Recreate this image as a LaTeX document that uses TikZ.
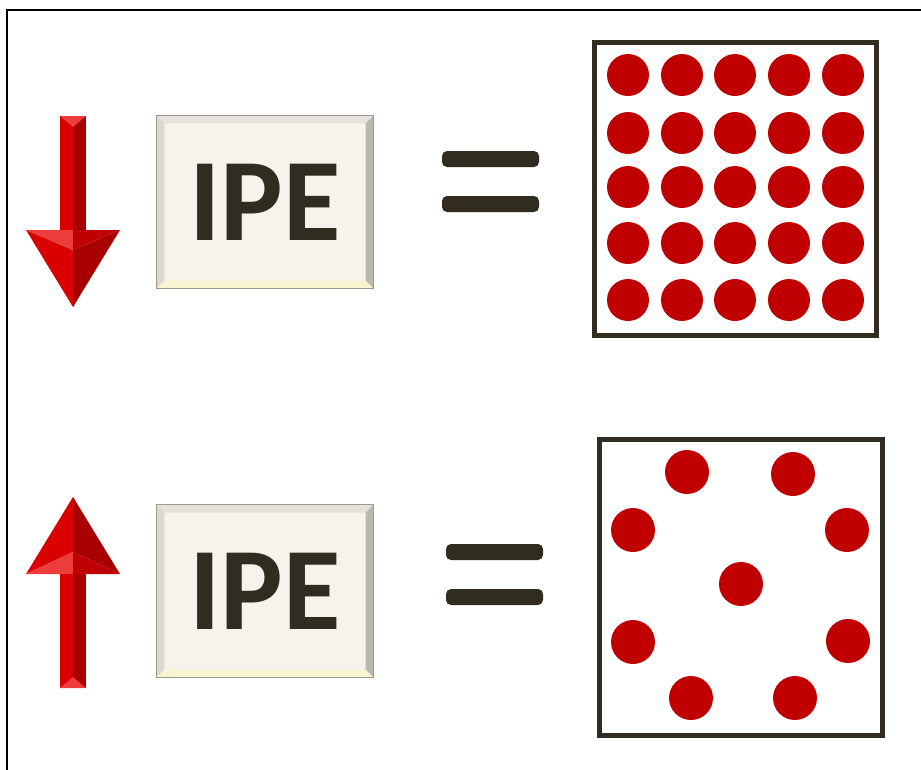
\documentclass[tikz,border=0pt]{standalone}
\usepackage{fontspec}
\newfontfamily\ipefont{Carlito}
\usepackage{tikz}
\usetikzlibrary{calc,positioning}
\definecolor{dotred}{RGB}{192,0,0}
\definecolor{inkdark}{RGB}{48,44,32}
\definecolor{redlight}{RGB}{218,0,0}
\definecolor{reddark}{RGB}{168,0,0}
\definecolor{redtop}{RGB}{236,60,60}
\definecolor{boxface}{RGB}{246,243,236}
\definecolor{boxedge}{RGB}{160,152,138}
\tikzset{
  ipebox/.style={fill=boxface, draw=boxedge, line width=0.6pt, inner sep=0pt,
    minimum width=4.32cm, minimum height=3.44cm, text depth=0pt,
    text=inkdark, font=\ipefont\bfseries\fontsize{67}{67}\selectfont},
  eqbar/.style={fill=inkdark, rounded corners=0.1cm},
  dotframe/.style={draw=inkdark, line width=0.1cm}
}
\begin{document}
\begin{tikzpicture}[x=0.02cm, y=-0.02cm]
        \def\rA{0.42cm}
        \def\rB{0.44cm}
        \useasboundingbox (0,0) rectangle (921,769);
        \clip (0,0) rectangle (921,769);
        \fill[white] (0,0) rectangle (921,769);
        %Outer frame
        \draw[line width=0.04cm] (7,10) rectangle (940,790);
        %Down arrow
        \fill[redlight] (60,116) rectangle (73,232);
        \fill[reddark] (73,116) rectangle (86,232);
        \fill[redtop] (60,116) -- (86,116) -- (73,127) -- cycle;
        \fill[redlight] (26,230) -- (73,250) -- (73,307) -- cycle;
        \fill[reddark] (120,230) -- (73,250) -- (73,307) -- cycle;
        \fill[redtop] (26,230) -- (73,230) -- (73,250) -- cycle;
        \fill[dotred] (73,230) -- (120,230) -- (73,250) -- cycle;
        %Up arrow
        \fill[redlight] (60,572) rectangle (73,688);
        \fill[reddark] (73,572) rectangle (86,688);
        \fill[redtop] (60,688) -- (86,688) -- (73,677) -- cycle;
        \fill[redlight] (26,574) -- (73,497) -- (73,552) -- cycle;
        \fill[reddark] (120,574) -- (73,497) -- (73,552) -- cycle;
        \fill[redtop] (26,574) -- (73,574) -- (73,552) -- cycle;
        \fill[dotred] (73,574) -- (120,574) -- (73,552) -- cycle;
        %IPE boxes
        \node[ipebox] (ipetop) at (265,202) {IPE};
        \node[ipebox] (ipebot) at (265,591) {IPE};
        \foreach \b in {ipetop,ipebot} {
            \fill[black!7!boxface] (\b.north west) -- (\b.north east) -- ($(\b.north east)+(-8,8)$) -- ($(\b.north west)+(8,8)$) -- cycle;
            \fill[black!11!boxface] (\b.north west) -- (\b.south west) -- ($(\b.south west)+(8,-8)$) -- ($(\b.north west)+(8,8)$) -- cycle;
            \fill[black!24!boxface] (\b.north east) -- (\b.south east) -- ($(\b.south east)+(-8,-8)$) -- ($(\b.north east)+(-8,8)$) -- cycle;
            \fill[yellow!12!boxface] (\b.south west) -- (\b.south east) -- ($(\b.south east)+(-8,-8)$) -- ($(\b.south west)+(8,-8)$) -- cycle;
            \draw[boxedge, line width=0.6pt] (\b.north west) rectangle (\b.south east);
          }
        %Equal signs
        \fill[eqbar] (442,151) rectangle (539,167);
        \fill[eqbar] (442,196) rectangle (539,212);
        \fill[eqbar] (446,544) rectangle (543,560);
        \fill[eqbar] (446,589) rectangle (543,605);
        %Packed dots
        \draw[dotframe] (594,42) rectangle (876,335);
        \foreach \x in {628,682,735,789,843} {
            \foreach \y in {75,133,187,243,300}
              {
                \fill[dotred] (\x,\y) circle (\rA);
              }
          }
        %Sparse dots
        \draw[dotframe] (599,439) rectangle (882,735);
        \foreach \x/\y in {687/472,793/474,633/530,847/530,741/584,633/642,848/641,691/698,795/698}
          {
            \fill[dotred] (\x,\y) circle (\rB);
          }
      \end{tikzpicture}
\end{document}
